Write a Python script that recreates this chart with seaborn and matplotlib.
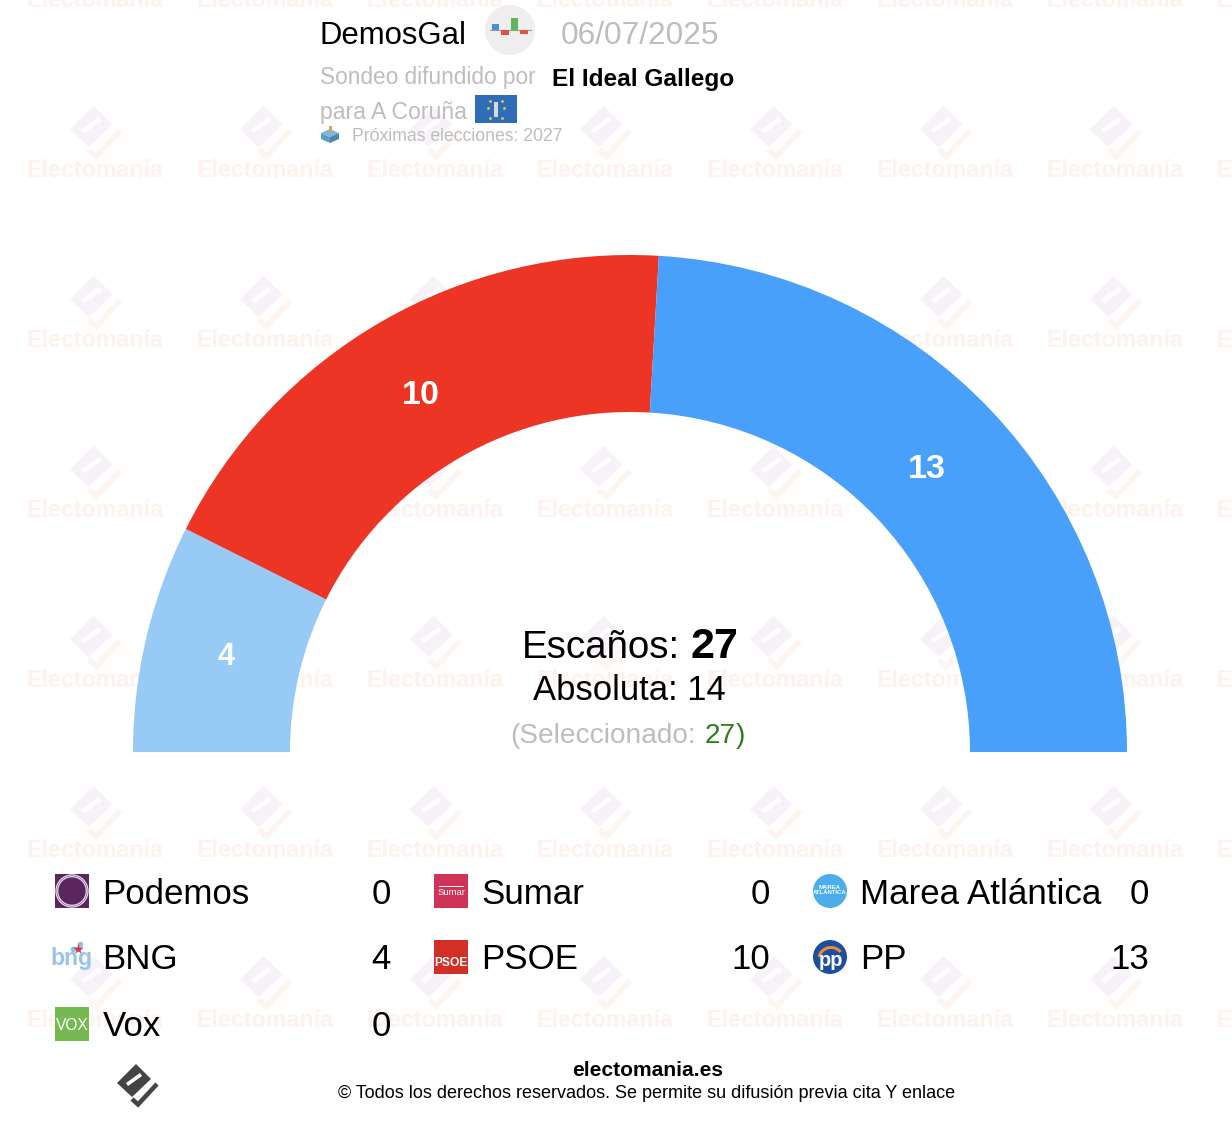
import math
import numpy as np
import seaborn as sns
import matplotlib
matplotlib.use("Agg")
import matplotlib.pyplot as plt
from matplotlib.patches import Circle, Polygon, Rectangle, Wedge

# Datos
parties = ["Podemos", "Sumar", "Marea Atlántica", "BNG", "PSOE", "PP", "Vox"]
seats = [0, 0, 0, 4, 10, 13, 0]
party_colors = ["#5B2560", "#D03358", "#4BAEEA", "#97CBF6", "#EC3524", "#48A0FA", "#76B852"]
total_seats = 27
majority = 14
selected = 27
pollster = "DemosGal"
poll_date = "06/07/2025"
media = "El Ideal Gallego"
place = "para A Coruña"
next_elections = "Próximas elecciones: 2027"

sns.set_theme(style="white")
plt.rcParams["font.family"] = ["Liberation Sans", "DejaVu Sans"]

W, H = 1232, 1124
GREY = "#BDBDBD"


def px(size):
    return size * 0.72


fig = plt.figure(figsize=(W / 100, H / 100), dpi=100)
ax = fig.add_axes([0, 0, 1, 1])


def logo(cx, cy, scale, body, check, hole="white", z=1):
    def pts(offsets):
        return [(cx + a * scale, cy + b * scale) for a, b in offsets]
    ax.add_patch(Polygon(pts([(-1, -21), (14, -6), (-5, 12), (-20, -2)]), fc=body, ec="none", zorder=z))
    ax.add_patch(Polygon(pts([(-11, -2), (3, -12), (5, -9), (-9, 1)]), fc=hole, ec="none", zorder=z))
    ax.plot(*zip(*pts([(-5, 14), (1, 19.5), (20, -1)])), color=check, lw=px(4.5 * scale),
            solid_joinstyle="miter", solid_capstyle="butt", zorder=z)


# Marca de agua
for row in range(0, 7):
    for col in range(0, 8):
        wx = 95 + col * 170
        wy = row * 170
        ax.text(wx, wy + 7, "Electomanía", fontsize=px(23.3), fontweight="bold", color="#FDF2EE",
                ha="center", va="baseline", zorder=1)
        logo(wx, wy + 132, 1.25, "#F6F2F8", "#FCF5F0", z=1)

# Hemiciclo: la mitad inferior del círculo queda oculta
cx, cy, radius = 630, 752, 497
wedges, _ = ax.pie(seats + [sum(seats)], colors=party_colors + ["white"], startangle=180,
                   counterclock=True, radius=radius, center=(cx, cy),
                   wedgeprops={"width": 157, "linewidth": 0})
wedges[-1].set_visible(False)
for w in wedges:
    w.set_zorder(2)
ax.set_xlim(0, W)
ax.set_ylim(H, 0)
ax.set_aspect("equal")
ax.axis("off")

for w, n in zip(wedges, seats):
    if n > 0:
        th = math.radians((w.theta1 + w.theta2) / 2)
        ax.text(cx - 3 + 412 * math.cos(th), cy - 3 + 412 * math.sin(th), str(n), color="white",
                fontweight="bold", fontsize=px(34 if n > 9 else 31), ha="center", va="center_baseline", zorder=3)

# Texto central
ax.text(680, 658, "Escaños:", fontsize=px(38.5), color="black", ha="right", va="baseline", zorder=3)
ax.text(690, 658, str(total_seats), fontsize=px(43), fontweight="bold", color="black", ha="left", va="baseline", zorder=3)
ax.text(629.5, 700, f"Absoluta: {majority}", fontsize=px(34.7), color="black", ha="center", va="baseline", zorder=3)
ax.text(696, 743, "(Seleccionado:", fontsize=px(28), color=GREY, ha="right", va="baseline", zorder=3)
ax.text(705, 743, str(selected), fontsize=px(28), color="#2E7D1E", ha="left", va="baseline", zorder=3)
ax.text(736, 743, ")", fontsize=px(28), color="#2E7D1E", ha="left", va="baseline", zorder=3)

# Cabecera
ax.text(320, 44, pollster, fontsize=px(31.2), color="black", va="baseline", zorder=3)
ax.text(561, 44, poll_date, fontsize=px(31.5), color=GREY, va="baseline", zorder=3)
ax.add_patch(Circle((510, 30), 25, fc="#EFEDED", ec="none", zorder=3))
ax.plot([490, 530.5], [30, 30], color="#9A9A9A", lw=0.8, zorder=4)
ax.add_patch(Rectangle((491.7, 24), 7.6, 6, fc="#4A90D9", ec="none", zorder=4))
ax.add_patch(Rectangle((500.7, 30), 8, 5, fc="#E0533F", ec="none", zorder=4))
ax.add_patch(Rectangle((510.7, 18), 7.6, 12, fc="#5FB55F", ec="none", zorder=4))
ax.add_patch(Rectangle((520, 30), 7.7, 3.7, fc="#E0533F", ec="none", zorder=4))
ax.text(320, 84, "Sondeo difundido por", fontsize=px(22.6), color=GREY, va="baseline", zorder=3)
ax.text(552, 86, media, fontsize=px(24.4), fontweight="bold", color="black", va="baseline", zorder=3)
ax.text(320, 119, place, fontsize=px(23), color=GREY, va="baseline", zorder=3)
ax.add_patch(Rectangle((475, 95), 42, 28, fc="#2E6DB8", ec="none", zorder=3))
ax.add_patch(Rectangle((494, 102), 4, 15, fc="#D8D8D8", ec="none", zorder=4))
ax.plot([490, 502, 488, 504, 490, 502], [101, 101, 108, 108, 118, 118], ls="none", marker="o", ms=1.1, color="#D9C24A", zorder=4)
ax.add_patch(Polygon([(330, 129), (339, 133), (330, 137), (321, 133)], fc="#7FB7DA", ec="none", zorder=3))
ax.add_patch(Polygon([(321, 133), (330, 137), (330, 143), (321, 139)], fc="#5E9CC4", ec="none", zorder=3))
ax.add_patch(Polygon([(339, 133), (330, 137), (330, 143), (339, 139)], fc="#4B87AE", ec="none", zorder=3))
ax.add_patch(Rectangle((328.5, 126), 3, 5, fc="#E8A33D", ec="none", zorder=4))
ax.text(352, 141, next_elections, fontsize=px(17.6), color=GREY, va="baseline", zorder=3)

# Leyenda
col_swatch = [55, 434, 813]
col_value = [391, 770, 1149]
row_base = [904, 969, 1036]
row_swatch = [874, 940, 1007]
for i, (name, n, color) in enumerate(zip(parties, seats, party_colors)):
    x = col_swatch[i % 3]
    y = row_base[i // 3]
    sy = row_swatch[i // 3]
    mx, my = x + 17, sy + 17
    if name == "Podemos":
        ax.add_patch(Rectangle((x, sy), 34, 34, fc=color, ec="none", zorder=3))
        ax.add_patch(Circle((mx, my), 16, fc="none", ec="#E9DDEB", lw=0.9, zorder=4))
        ax.add_patch(Circle((mx, my), 14.3, fc="none", ec="#E9DDEB", lw=0.9, zorder=4))
    elif name == "Sumar":
        ax.add_patch(Rectangle((x, sy), 34, 34, fc=color, ec="none", zorder=3))
        ax.plot([x + 5, x + 29], [my - 5, my - 5], color="white", lw=0.7, zorder=4)
        ax.text(mx, my + 4, "Sumar", fontsize=px(9.5), color="white", ha="center", va="baseline", zorder=4)
    elif name == "Marea Atlántica":
        ax.add_patch(Circle((mx, my), 17, fc=color, ec="none", zorder=3))
        ax.text(mx, my - 1, "MAREA\nATLÁNTICA", fontsize=px(6), fontweight="bold", color="white",
                ha="center", va="center", linespacing=1.0, zorder=4)
    elif name == "BNG":
        ax.text(mx, my + 8, "bng", fontsize=px(23), fontweight="bold", color="#97C4E8", ha="center", va="baseline", zorder=4)
        ax.plot([mx + 6], [my - 8], marker="*", ms=8, color="#D8344B", mec="none", zorder=5)
        ax.plot([mx + 1, mx + 8], [my - 8, my - 13], ls="none", marker="o", ms=4, color="#8FC0E8", mec="none", zorder=4)
    elif name == "PSOE":
        ax.add_patch(Rectangle((x, sy), 34, 34, fc="#D22F27", ec="none", zorder=3))
        ax.text(mx, my + 9, "PSOE", fontsize=px(12), fontweight="bold", color="white", ha="center", va="baseline", zorder=4)
    elif name == "PP":
        ax.add_patch(Circle((mx, my), 17, fc="#1D4F9C", ec="none", zorder=3))
        ax.add_patch(Wedge((mx + 1, my + 3), 14, 195, 320, width=3, fc="#EE8B3A", ec="none", zorder=4))
        ax.text(mx + 1, my + 9, "pp", fontsize=px(20), fontweight="bold", color="white", ha="center", va="baseline", zorder=5)
    elif name == "Vox":
        ax.add_patch(Rectangle((x, sy), 34, 34, fc=color, ec="none", zorder=3))
        ax.text(mx, my + 6, "VOX", fontsize=px(15.5), color="white", ha="center", va="baseline", zorder=4)
    ax.text(x + 47.5, y, name, fontsize=px(34.9), color="black", va="baseline", zorder=3)
    ax.text(col_value[i % 3], y, str(n), fontsize=px(34.9), color="black", ha="right", va="baseline", zorder=3)

# Pie de página
logo(137, 1085, 1.0, "#444444", "#444444", z=3)
ax.text(648, 1076, "electomania.es", fontsize=px(21), fontweight="bold", color="black", ha="center", va="baseline", zorder=3)
ax.text(647, 1098, "© Todos los derechos reservados. Se permite su difusión previa cita Y enlace",
        fontsize=px(17.95), color="black", ha="center", va="baseline", zorder=3)

fig.savefig("out.png", dpi=100, facecolor="white")
